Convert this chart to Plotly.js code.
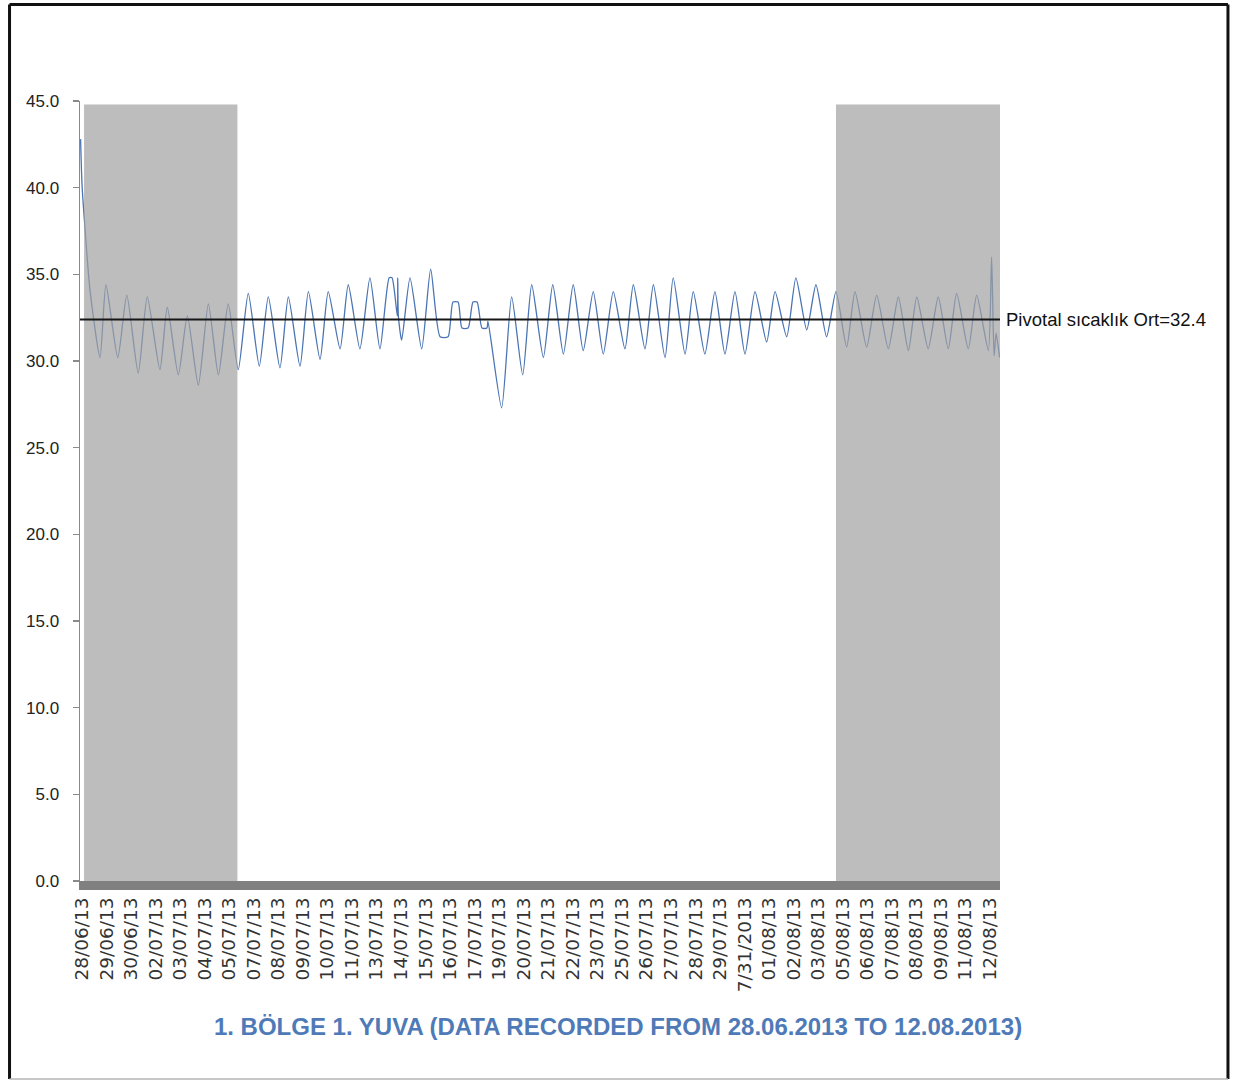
<!DOCTYPE html>
<html>
<head>
<meta charset="utf-8">
<script src="https://cdn.plot.ly/plotly-3.0.1.min.js"></script>
<style>
  html, body { margin: 0; padding: 0; background: #ffffff; }
  #chart { width: 1243px; height: 1081px; }
</style>
</head>
<body>
<div id="chart"></div>
<script>
// Nest temperature log, 1st zone / nest 1, 28.06.2013 – 12.08.2013.
// Time axis: days elapsed since 28/06/2013 00:00; temperature in °C.
const dayPos = [
  0.53, 0.60, 0.70, 0.99, 1.48, 1.77, 2.35, 2.79, 3.35, 3.79,
  4.41, 4.77, 5.31, 5.75, 6.29, 6.78, 7.27, 7.75, 8.24, 8.73,
  9.27, 9.71, 10.28, 10.69, 11.26, 11.67, 12.24, 12.64, 13.22, 13.62,
  14.19, 14.68, 15.17, 15.62, 15.76, 16.02, 16.04, 16.07, 16.23, 16.64,
  17.21, 17.65, 18.11, 18.50, 18.74, 18.99, 19.18, 19.48, 19.72, 19.92,
  20.16, 20.40, 20.45, 21.12, 21.61, 22.15, 22.59, 23.16, 23.62, 24.14,
  24.62, 25.11, 25.60, 26.09, 26.58, 27.15, 27.56, 28.13, 28.54, 29.11,
  29.51, 30.09, 30.49, 31.06, 31.55, 32.04, 32.53, 33.02, 33.51, 34.08,
  34.49, 35.06, 35.51, 36.04, 36.49, 37.01, 37.47, 37.99, 38.40, 38.97,
  39.46, 40.03, 40.52, 41.01, 41.42, 41.98, 42.47, 42.96, 43.37, 43.94,
  44.35, 44.92, 45.08, 45.20, 45.30, 45.47
];
const tempC = [
  42.8, 40.2, 38.4, 34.1, 30.2, 34.4, 30.2, 33.8, 29.3, 33.7,
  29.5, 33.1, 29.2, 32.6, 28.6, 33.3, 29.2, 33.3, 29.5, 33.9,
  29.7, 33.7, 29.6, 33.7, 29.7, 34.0, 30.1, 34.0, 30.7, 34.4,
  30.7, 34.8, 30.7, 34.8, 34.8, 32.6, 34.8, 32.6, 31.2, 34.8,
  30.7, 35.3, 31.4, 31.4, 33.4, 33.4, 31.9, 31.9, 33.4, 33.4,
  31.9, 31.9, 32.3, 27.3, 33.7, 29.2, 34.4, 30.2, 34.4, 30.4,
  34.4, 30.6, 34.0, 30.4, 34.0, 30.7, 34.4, 30.7, 34.4, 30.2,
  34.8, 30.4, 34.0, 30.4, 34.0, 30.4, 34.0, 30.4, 34.0, 31.1,
  34.0, 31.4, 34.8, 31.8, 34.4, 31.4, 34.0, 30.8, 34.0, 30.8,
  33.8, 30.7, 33.7, 30.6, 33.7, 30.7, 33.7, 30.7, 33.9, 30.7,
  33.8, 30.6, 36.0, 30.3, 31.6, 30.2
];

// Category labels printed under the time axis (one every 1.2 days)
const tickLabels = [
  '28/06/13', '29/06/13', '30/06/13', '02/07/13', '03/07/13', '04/07/13',
  '05/07/13', '07/07/13', '08/07/13', '09/07/13', '10/07/13', '11/07/13',
  '13/07/13', '14/07/13', '15/07/13', '16/07/13', '17/07/13', '19/07/13',
  '20/07/13', '21/07/13', '22/07/13', '23/07/13', '25/07/13', '26/07/13',
  '27/07/13', '28/07/13', '29/07/13', '7/31/2013', '01/08/13', '02/08/13',
  '03/08/13', '05/08/13', '06/08/13', '07/08/13', '08/08/13', '09/08/13',
  '11/08/13', '12/08/13'
];
const firstTickDay = 0.6;
const tickStepDays = 1.2;

// Pivotal temperature (mean) reference line
const pivotValue = 32.4;

// Highlighted periods (days since 28/06/2013)
const shadeStart = [0.70, 37.47];
const shadeEnd = [8.20, 45.49];
const shadeTop = 44.8;

const xRange = [0.502, 45.49];
const yRange = [0, 45];

const tickVals = tickLabels.map((_, k) => firstTickDay + k * tickStepDays);

const shapes = [];
shadeStart.forEach((s, i) => {
  shapes.push({
    type: 'rect', xref: 'x', yref: 'y', layer: 'above',
    x0: s, x1: shadeEnd[i], y0: 0, y1: shadeTop,
    fillcolor: '#a1a1a1', opacity: 0.7, line: { width: 0 }
  });
});
shapes.push({
  type: 'line', xref: 'paper', yref: 'y', layer: 'above',
  x0: 0, x1: 1, y0: pivotValue, y1: pivotValue,
  line: { color: '#161616', width: 2 }
});
// outer frame of the figure
const fx0 = -0.0766, fx1 = 1.2478, fy0 = -0.2538, fy1 = 1.1237;
shapes.push({ type: 'line', xref: 'paper', yref: 'paper', x0: fx0, x1: fx1, y0: fy1, y1: fy1, line: { color: '#111111', width: 3 } });
shapes.push({ type: 'line', xref: 'paper', yref: 'paper', x0: fx0, x1: fx0, y0: fy0, y1: fy1, line: { color: '#111111', width: 3 } });
shapes.push({ type: 'line', xref: 'paper', yref: 'paper', x0: fx1, x1: fx1, y0: fy0, y1: fy1, line: { color: '#111111', width: 3 } });
shapes.push({ type: 'line', xref: 'paper', yref: 'paper', x0: fx0, x1: fx1, y0: fy0, y1: fy0, line: { color: '#b5b5b5', width: 1.5 } });

const traces = [{
  type: 'scatter', mode: 'lines',
  x: dayPos, y: tempC,
  line: { color: '#4a74b4', width: 1.3, shape: 'spline', smoothing: 0.6 },
  hoverinfo: 'x+y', showlegend: false
}];

const layout = {
  width: 1243, height: 1081,
  margin: { l: 80, r: 243, t: 101, b: 200, pad: 0 },
  paper_bgcolor: '#ffffff', plot_bgcolor: '#ffffff',
  showlegend: false,
  title: {
    text: '1. BÖLGE 1. YUVA (DATA RECORDED FROM 28.06.2013 TO 12.08.2013)',
    xref: 'container', yref: 'container',
    x: 0.4972, y: 0.050, xanchor: 'center', yanchor: 'middle',
    font: { family: '"Liberation Sans", Arial, sans-serif', size: 24, color: '#4f7ab8', weight: 700 }
  },
  xaxis: {
    range: xRange, showgrid: false, zeroline: false,
    tickmode: 'array', tickvals: tickVals, ticktext: tickLabels,
    tickangle: -90, ticks: '',
    showline: true, linecolor: '#808080', linewidth: 9,
    tickfont: { family: '"DejaVu Sans", Verdana, sans-serif', size: 18.5, color: '#333333' },
    fixedrange: true
  },
  yaxis: {
    range: yRange, showgrid: false, zeroline: false,
    tickmode: 'linear', tick0: 0, dtick: 5, tickformat: '.1f',
    ticks: 'outside', ticklen: 6, tickcolor: '#8a8a8a', tickwidth: 1.5,
    showline: true, linecolor: '#8a8a8a', linewidth: 1.5,
    ticklabelstandoff: 10,
    tickfont: { family: '"Liberation Sans", Arial, sans-serif', size: 17, color: '#222222' },
    fixedrange: true
  },
  shapes: shapes,
  annotations: [{
    xref: 'paper', yref: 'y', x: 1, y: pivotValue,
    xanchor: 'left', yanchor: 'middle', xshift: 4, showarrow: false,
    text: 'Pivotal sıcaklık Ort=' + pivotValue.toFixed(1),
    font: { family: '"Liberation Sans", Arial, sans-serif', size: 18.5, color: '#111111' }
  }]
};

Plotly.newPlot('chart', traces, layout, { displayModeBar: false, staticPlot: true });
</script>
</body>
</html>
